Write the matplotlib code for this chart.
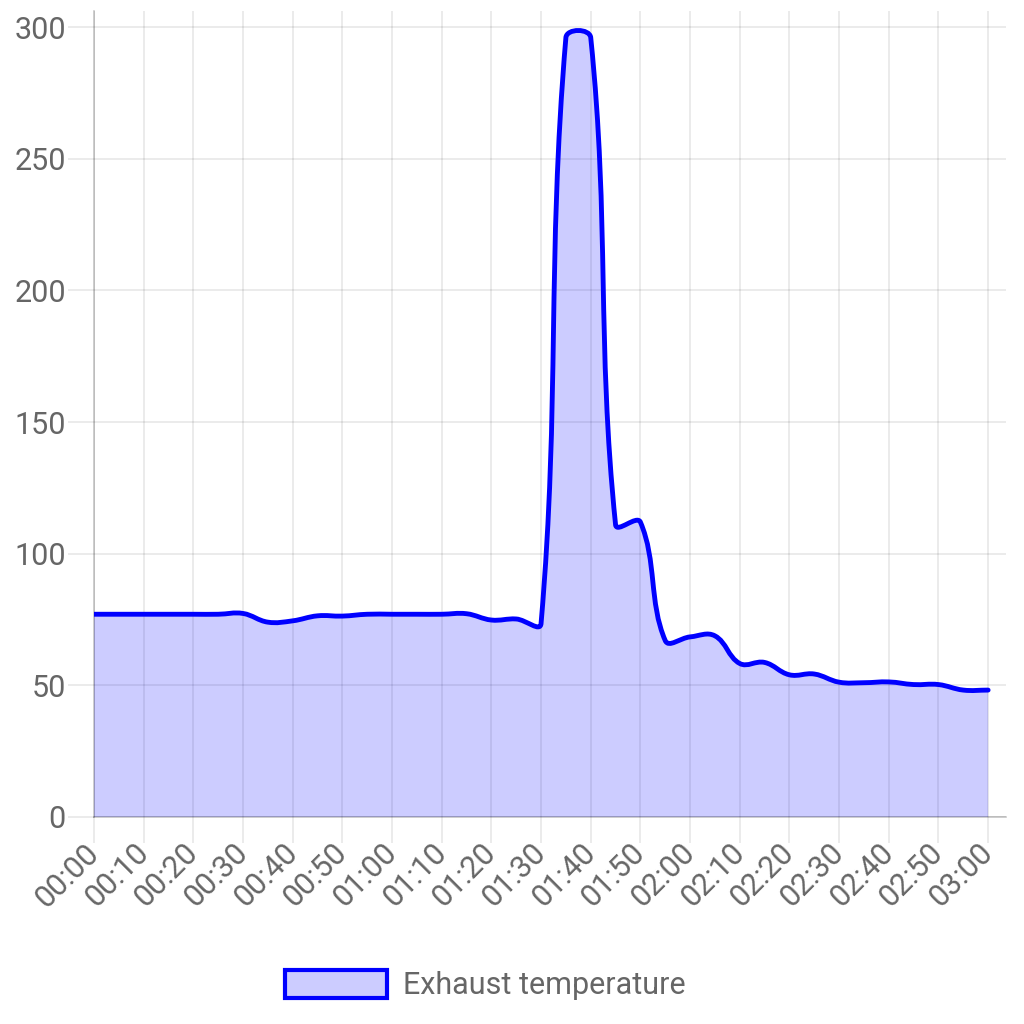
import numpy as np
import matplotlib.pyplot as plt
from matplotlib.path import Path
from matplotlib.patches import PathPatch, Patch

plt.rcParams['font.family'] = ['Roboto', 'DejaVu Sans']

# samples every 5 minutes
minutes = list(range(0, 185, 5))
temps = [77, 77, 77, 77, 77, 77, 77.3, 74, 74.5, 76.4, 76.3, 77, 77, 77, 77, 77.2,
         74.8, 75.2, 73.5, 296, 296, 111, 112, 67, 68.4, 68.8, 58.3, 58.7, 54, 54.3,
         51.2, 51, 51.3, 50.3, 50.3, 48.2, 48.2]
tick_minutes = list(range(0, 190, 10))
tick_labels = ['%02d:%02d' % (m // 60, m % 60) for m in tick_minutes]
y_ticks = [0, 50, 100, 150, 200, 250, 300]
series_name = 'Exhaust temperature'

grid_col = (0, 0, 0, 0.1)
axis_col = (0, 0, 0, 0.25)
text_col = '#666666'


def smooth_path(ax, xs, ys, tension=0.4):
    # same control points as a Chart.js line with tension, computed in pixels
    pts = ax.transData.transform(np.column_stack([xs, ys]))
    n = len(pts)
    cp_prev = np.zeros_like(pts)
    cp_next = np.zeros_like(pts)
    for i in range(n):
        prev = pts[max(i - 1, 0)]
        cur = pts[i]
        nxt = pts[min(i + 1, n - 1)]
        d01 = np.hypot(*(cur - prev))
        d12 = np.hypot(*(nxt - cur))
        tot = d01 + d12
        s01 = d01 / tot if tot else 0
        s12 = d12 / tot if tot else 0
        cp_prev[i] = cur - tension * s01 * (nxt - prev)
        cp_next[i] = cur + tension * s12 * (nxt - prev)
    verts = [pts[0]]
    codes = [Path.MOVETO]
    for i in range(1, n):
        verts += [cp_next[i - 1], cp_prev[i], pts[i]]
        codes += [Path.CURVE4] * 3
    verts = ax.transData.inverted().transform(np.array(verts))
    return verts, codes


fig = plt.figure(figsize=(10.24, 10.24), dpi=100)
ax = fig.add_axes([94 / 1024, 1 - 817 / 1024, (1006 - 94) / 1024, (817 - 11) / 1024])
ax.set_xlim(0, 183.6)
ax.set_ylim(0, 306.1)

ax.set_xticks(tick_minutes)
ax.set_xticklabels(tick_labels, rotation=45, ha='right', va='center',
                   rotation_mode='anchor')
ax.set_yticks(y_ticks)
ax.tick_params(axis='both', length=18.7, width=1.1, color=grid_col,
               labelsize=22, labelcolor=text_col)
ax.tick_params(axis='y', pad=1.5)
ax.tick_params(axis='x', pad=4)
ax.grid(True, color='black', alpha=0.1, linewidth=1.1)
ax.set_axisbelow(True)
for s in ['top', 'right']:
    ax.spines[s].set_visible(False)
for s in ['left', 'bottom']:
    ax.spines[s].set_color(axis_col)
    ax.spines[s].set_linewidth(1.1)
ax.get_xticklines()[0].set_color(axis_col)
ax.get_yticklines()[0].set_color(axis_col)

verts, codes = smooth_path(ax, minutes, temps)
fill_verts = np.vstack([verts, [[minutes[-1], 0], [minutes[0], 0], [minutes[0], 0]]])
fill_codes = codes + [Path.LINETO, Path.LINETO, Path.CLOSEPOLY]
ax.add_patch(PathPatch(Path(fill_verts, fill_codes), facecolor=(0, 0, 1, 0.2),
                       edgecolor='none', zorder=2))
ax.add_patch(PathPatch(Path(verts, codes), facecolor='none', edgecolor='#0000ff',
                       linewidth=3.5, capstyle='round', joinstyle='round', zorder=3))

handle = Patch(facecolor=(0, 0, 1, 0.2), edgecolor='#0000ff', linewidth=3, label=series_name)
fig.legend(handles=[handle], loc='center', bbox_to_anchor=(485 / 1024, 1 - 985 / 1024),
           frameon=False, fontsize=22, labelcolor=text_col, handlelength=3.33,
           handleheight=1.05, handletextpad=0.52)

fig.savefig('out.png', dpi=100)
